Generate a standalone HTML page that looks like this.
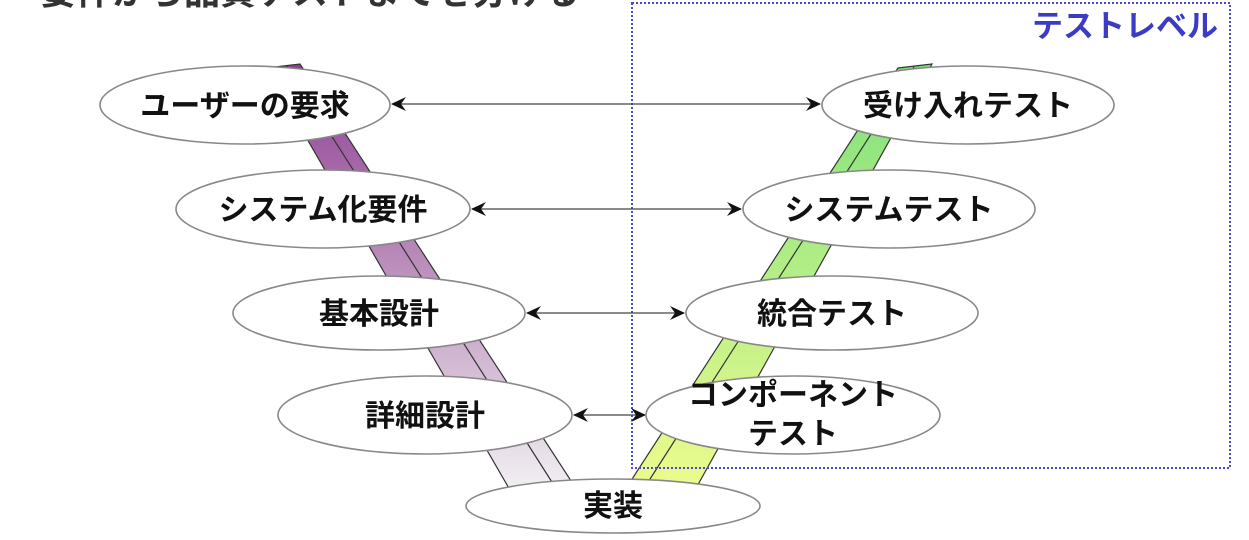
<!DOCTYPE html>
<html><head><meta charset="utf-8"><style>
html,body{margin:0;padding:0;background:#fff;width:1249px;height:540px;overflow:hidden}
svg text{font-family:"Liberation Sans","Noto Sans CJK JP",sans-serif;font-weight:bold}
</style></head><body>
<svg width="1249" height="540" viewBox="0 0 1249 540" xmlns="http://www.w3.org/2000/svg">
<defs>
<linearGradient id="pg" x1="0" y1="0" x2="0" y2="1">
<stop offset="0" stop-color="#8e3f93"/><stop offset="0.45" stop-color="#b88ab9"/><stop offset="1" stop-color="#f2f0f3"/>
</linearGradient>
<linearGradient id="gg" x1="0" y1="0" x2="0" y2="1">
<stop offset="0" stop-color="#7fe07a"/><stop offset="0.5" stop-color="#b4ee86"/><stop offset="1" stop-color="#eefb8e"/>
</linearGradient>
<marker id="ah" markerWidth="16" markerHeight="14" refX="14" refY="7" orient="auto-start-reverse" markerUnits="userSpaceOnUse">
<path d="M0,0 L15,7 L0,14 L5,7 Z" fill="#111"/>
</marker>
</defs>
<text x="40" y="4" font-size="36" fill="#333" font-weight="normal">要件から品質テストまでを分ける</text>
<!-- V bands -->
<polygon points="266,68 300,64 577,490 510,490" fill="url(#pg)" stroke="#333" stroke-width="1.2"/>
<line x1="287" y1="66" x2="557" y2="490" stroke="#333" stroke-width="1.2"/>
<polygon points="898,68 932,64 695,490 625,490" fill="url(#gg)" stroke="#333" stroke-width="1.2"/>
<line x1="914" y1="67" x2="643" y2="490" stroke="#333" stroke-width="1.2"/>
<!-- dotted box -->
<rect x="632" y="3" width="598" height="465" fill="none" stroke="#4a4ad8" stroke-width="2" stroke-dasharray="2,2"/>
<text x="1218" y="37" font-size="31" fill="#3b3bc8" text-anchor="end">テストレベル</text>
<!-- arrows -->
<g stroke="#444" stroke-width="1.3" fill="none">
<line x1="392" y1="104" x2="820" y2="104" marker-start="url(#ah)" marker-end="url(#ah)"/>
<line x1="472" y1="209" x2="741" y2="209" marker-start="url(#ah)" marker-end="url(#ah)"/>
<line x1="527" y1="313" x2="684" y2="313" marker-start="url(#ah)" marker-end="url(#ah)"/>
<line x1="574" y1="415" x2="645" y2="415" marker-start="url(#ah)" marker-end="url(#ah)"/>
</g>
<!-- ellipses -->
<g fill="#fff" stroke="#888" stroke-width="1.6">
<ellipse cx="245" cy="105" rx="145" ry="39"/>
<ellipse cx="323" cy="209" rx="147" ry="39"/>
<ellipse cx="379" cy="313" rx="146" ry="37"/>
<ellipse cx="425" cy="415" rx="147" ry="39"/>
<ellipse cx="613" cy="506" rx="147" ry="27"/>
<ellipse cx="968" cy="105" rx="146" ry="39"/>
<ellipse cx="889" cy="209" rx="146" ry="39"/>
<ellipse cx="832" cy="313" rx="146" ry="37"/>
<ellipse cx="793" cy="415" rx="147" ry="39"/>
</g>
<g font-size="30" fill="#111" text-anchor="middle">
<text x="245" y="116">ユーザーの要求</text>
<text x="323" y="220">システム化要件</text>
<text x="379" y="324">基本設計</text>
<text x="425" y="426">詳細設計</text>
<text x="613" y="516">実装</text>
<text x="968" y="116">受け入れテスト</text>
<text x="889" y="220">システムテスト</text>
<text x="832" y="324">統合テスト</text>
<text x="793" y="405">コンポーネント</text>
<text x="793" y="444">テスト</text>
</g>
</svg>
</body></html>
